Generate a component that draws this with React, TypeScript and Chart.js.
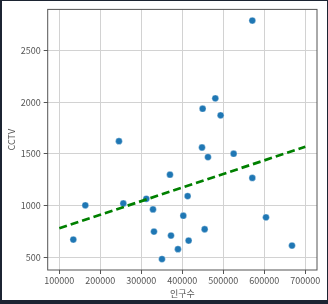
import React, { useEffect, useRef } from 'react';
import { Chart, registerables } from 'chart.js';

Chart.register(...registerables);

// Population (인구수) per district and CCTV counts
const population = [
  134150, 163400, 245500, 256100, 312200, 328500, 330900, 350400, 369900,
  372400, 389400, 402400, 413000, 415400, 448000, 449600, 454500, 462600,
  480500, 493500, 525200, 570700, 570700, 604100, 667500,
];
const cctv = [
  670, 1002, 1623, 1020, 1065, 962, 747, 481, 1299,
  709, 577, 901, 1091, 660, 1562, 1938, 770, 1469,
  2038, 1874, 1502, 2792, 1267, 885, 612,
];

// Regression (trend) line end points
const trendX = [100000, 700000];
const trendY = [779, 1569];

const xTicks = [100000, 200000, 300000, 400000, 500000, 600000, 700000];
const yTicks = [500, 1000, 1500, 2000, 2500];
const xTitle = '인구수';
const yTitle = 'CCTV';

const FONT = '"Noto Sans CJK KR", "Noto Sans", sans-serif';

const boxPlugin = {
  id: 'boxPlugin',
  afterDraw(chart: any) {
    const { ctx, chartArea } = chart;
    ctx.save();
    ctx.strokeStyle = '#555555';
    ctx.lineWidth = 1;
    ctx.strokeRect(
      chartArea.left,
      chartArea.top,
      chartArea.right - chartArea.left,
      chartArea.bottom - chartArea.top
    );
    ctx.restore();
  },
};

export default function App() {
  const ref = useRef<HTMLCanvasElement | null>(null);

  useEffect(() => {
    document.body.style.margin = '0';
    const canvas = ref.current;
    if (!canvas) return;
    const chart = new Chart(canvas, {
      type: 'scatter',
      data: {
        datasets: [
          {
            label: 'trend',
            data: trendX.map((x, i) => ({ x, y: trendY[i] })),
            showLine: true,
            borderColor: '#008000',
            borderWidth: 2.7,
            borderDash: [8, 4],
            pointRadius: 0,
            order: 0,
          },
          {
            label: 'points',
            data: population.map((x, i) => ({ x, y: cctv[i] })),
            backgroundColor: '#1f77b4',
            borderColor: 'rgba(255,255,255,0.7)',
            borderWidth: 0.5,
            pointRadius: 3.4,
            order: 1,
          },
        ],
      },
      options: {
        animation: false,
        responsive: false,
        maintainAspectRatio: false,
        devicePixelRatio: 1,
        layout: { padding: { left: 0, right: 10, top: 6.7, bottom: 0 } },
        plugins: {
          legend: { display: false },
          tooltip: { enabled: false },
        },
        scales: {
          x: {
            type: 'linear',
            min: 71700,
            max: 728500,
            afterBuildTicks: (scale: any) => {
              scale.ticks = xTicks.map((v) => ({ value: v }));
            },
            afterFit: (scale: any) => {
              scale.height = 30;
            },
            border: { display: false },
            grid: {
              color: '#d2d2d2',
              lineWidth: 1,
              tickColor: '#555555',
              tickLength: 4,
              drawTicks: true,
            },
            ticks: {
              color: '#555555',
              font: { family: FONT, size: 9 },
              padding: 1,
              maxRotation: 0,
              autoSkip: false,
              callback: (v: any) => String(v),
            },
            title: {
              display: true,
              text: xTitle,
              color: '#555555',
              font: { family: FONT, size: 9 },
              padding: { top: 0, bottom: 1.5 },
            },
          },
          y: {
            type: 'linear',
            min: 375,
            max: 2900,
            afterBuildTicks: (scale: any) => {
              scale.ticks = yTicks.map((v) => ({ value: v }));
            },
            afterFit: (scale: any) => {
              scale.width = 45.7;
            },
            border: { display: false },
            grid: {
              color: '#d2d2d2',
              lineWidth: 1,
              tickColor: '#555555',
              tickLength: 4,
              drawTicks: true,
            },
            ticks: {
              color: '#555555',
              font: { family: FONT, size: 9 },
              padding: 3,
              autoSkip: false,
              callback: (v: any) => String(v),
            },
            title: {
              display: true,
              text: yTitle,
              color: '#555555',
              font: { family: FONT, size: 9 },
              padding: { top: 4.3, bottom: 0 },
            },
          },
        },
      },
      plugins: [boxPlugin],
    } as any);
    return () => chart.destroy();
  }, []);

  return (
    <div
      style={{
        position: 'fixed',
        left: 0,
        top: 0,
        width: 328,
        height: 304,
        background: '#1c2432',
      }}
    >
      <div
        style={{
          position: 'absolute',
          left: 2,
          top: 1,
          width: 325,
          height: 299,
          background: '#ffffff',
        }}
      >
        <canvas ref={ref} width={325} height={299} style={{ display: 'block', width: 325, height: 299 }} />
      </div>
    </div>
  );
}
